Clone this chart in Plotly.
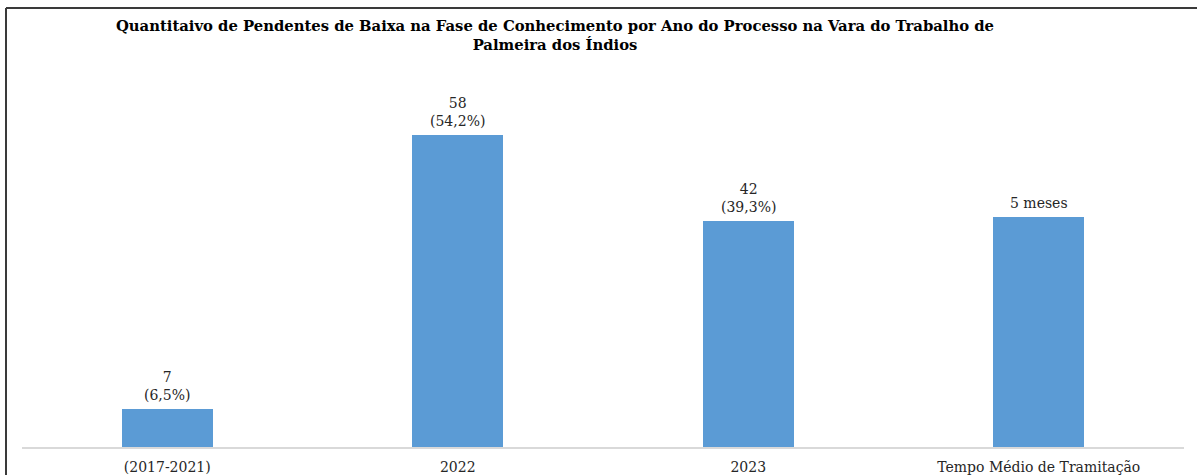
import plotly.graph_objects as go

# Pendentes de baixa por ano do processo
categorias = ['(2017-2021)', '2022', '2023', 'Tempo Médio de Tramitação']
valores = [7, 58, 42, 42.8]
rotulos = ['7<br>(6,5%)', '58<br>(54,2%)', '42<br>(39,3%)', '5 meses']

titulo = ('<b>Quantitaivo de Pendentes de Baixa na Fase de Conhecimento por Ano do Processo na Vara do Trabalho de'
          '<br>Palmeira dos Índios</b>')

W, H = 1197, 475
ml, mr, mt, mb = 22, 13, 71, 28
fonte = 'DejaVu Serif'

fig = go.Figure()
fig.add_trace(go.Bar(
    x=categorias,
    y=valores,
    marker=dict(color='#5B9BD5', line=dict(width=0)),
    width=0.313,
    hoverinfo='skip',
))

# rótulos acima das barras (x pelo índice da categoria)
for i, (val, txt) in enumerate(zip(valores, rotulos)):
    fig.add_annotation(x=i, y=val, text=txt, showarrow=False,
                       yanchor='bottom', yshift=4,
                       font=dict(family=fonte, size=14, color='#262626'))

# moldura (linha superior e esquerda)
pw, ph = W - ml - mr, H - mt - mb
def px_x(p):
    return (p - ml) / pw
def px_y(p):
    return (H - mb - p) / ph

fig.add_shape(type='line', xref='paper', yref='paper',
              x0=px_x(6), x1=px_x(W + 5), y0=px_y(8), y1=px_y(8),
              line=dict(color='#3a3a3a', width=2))
fig.add_shape(type='line', xref='paper', yref='paper',
              x0=px_x(6), x1=px_x(6), y0=px_y(8), y1=px_y(H + 5),
              line=dict(color='#3a3a3a', width=2))

fig.update_layout(
    width=W, height=H,
    margin=dict(l=ml, r=mr, t=mt, b=mb),
    paper_bgcolor='white', plot_bgcolor='white',
    showlegend=False,
    title=dict(text=titulo, x=555 / W, xanchor='center', xref='container',
               y=1 - 31 / H, yanchor='middle', yref='container',
               font=dict(family=fonte, size=14.8, color='black')),
    xaxis=dict(type='category', range=[-0.5, 3.5],
               showgrid=False, zeroline=False, showline=True, linecolor='#D9D9D9', linewidth=2,
               ticks='', ticklabelstandoff=6, automargin=False,
               tickfont=dict(family=fonte, size=14, color='#262626')),
    yaxis=dict(range=[0, 70], visible=False, automargin=False),
    bargap=0,
)

fig.write_html('out.html', config={'displayModeBar': False},
               post_script="document.body.style.margin='0';")
